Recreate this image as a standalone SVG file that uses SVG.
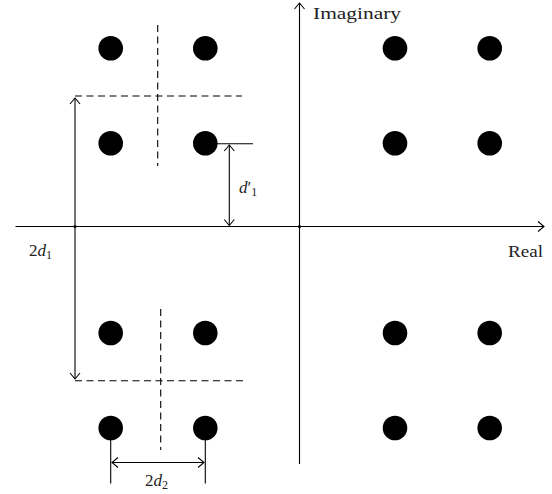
<svg xmlns="http://www.w3.org/2000/svg" width="552" height="494" viewBox="0 0 552 494">
<defs>
<style>
.ln{stroke:#000;stroke-width:1.1;fill:none}
.ds{stroke:#000;stroke-width:1.1;fill:none;stroke-dasharray:7 4.5}
.dot{fill:#000}
.t{font-family:"Liberation Serif","Times New Roman",serif;font-size:17px;fill:#222}
.i{font-style:italic}
</style>
<marker id="ah" markerWidth="12" markerHeight="12" refX="7" refY="6" orient="auto-start-reverse" markerUnits="userSpaceOnUse">
<path d="M1,1 L7,6 L1,11" fill="none" stroke="#000" stroke-width="1.1"/>
</marker>
</defs>
<rect width="552" height="494" fill="#fff"/>
<g id="axes">
<line id="real-axis" class="ln" x1="15.5" y1="226.5" x2="544" y2="226.5" marker-end="url(#ah)"/>
<line id="imag-axis" class="ln" x1="299.5" y1="464" x2="299.5" y2="3" marker-end="url(#ah)"/>
<circle cx="299.5" cy="226.5" r="1.6" class="dot"/>
<circle cx="75" cy="226.5" r="1.6" class="dot"/>
</g>
<g id="dots">
<circle class="dot" cx="110.7" cy="48.3" r="12.3"/>
<circle class="dot" cx="205.3" cy="48.3" r="12.3"/>
<circle class="dot" cx="110.7" cy="143.3" r="12.3"/>
<circle class="dot" cx="205.3" cy="143.3" r="12.3"/>
<circle class="dot" cx="110.7" cy="333" r="12.3"/>
<circle class="dot" cx="205.3" cy="333" r="12.3"/>
<circle class="dot" cx="110.7" cy="428" r="12.3"/>
<circle class="dot" cx="205.3" cy="428" r="12.3"/>
<circle class="dot" cx="395" cy="48.3" r="12.3"/>
<circle class="dot" cx="489.7" cy="48.3" r="12.3"/>
<circle class="dot" cx="395" cy="143.3" r="12.3"/>
<circle class="dot" cx="489.7" cy="143.3" r="12.3"/>
<circle class="dot" cx="395" cy="333" r="12.3"/>
<circle class="dot" cx="489.7" cy="333" r="12.3"/>
<circle class="dot" cx="395" cy="428" r="12.3"/>
<circle class="dot" cx="489.7" cy="428" r="12.3"/>
</g>
<g id="connectors">
<line class="ds" x1="157.7" y1="25" x2="157.7" y2="166"/>
<line class="ds" x1="75" y1="96" x2="242" y2="96"/>
<line class="ds" x1="160.7" y1="309" x2="160.7" y2="450"/>
<line class="ds" x1="75" y1="380.7" x2="243" y2="380.7"/>
<line class="ln" x1="75" y1="98" x2="75" y2="379" marker-start="url(#ah)" marker-end="url(#ah)"/>
<line class="ln" x1="216" y1="143.8" x2="253" y2="143.8"/>
<line class="ln" x1="229.3" y1="145" x2="229.3" y2="225.5" marker-start="url(#ah)" marker-end="url(#ah)"/>
<line class="ln" x1="110.7" y1="440" x2="110.7" y2="483.5"/>
<line class="ln" x1="205.3" y1="440" x2="205.3" y2="483.5"/>
<line class="ln" x1="112" y1="462.5" x2="204" y2="462.5" marker-start="url(#ah)" marker-end="url(#ah)"/>
</g>
<g id="labels">
<text class="t" x="313" y="19" textLength="88" lengthAdjust="spacingAndGlyphs">Imaginary</text>
<text class="t" x="508" y="257" textLength="35" lengthAdjust="spacingAndGlyphs">Real</text>
<text class="t" x="29" y="256">2<tspan class="i">d</tspan><tspan font-size="12" dy="3">1</tspan></text>
<text class="t" x="239" y="193"><tspan class="i">d</tspan>′<tspan font-size="12" dy="3">1</tspan></text>
<text class="t" x="145" y="486">2<tspan class="i">d</tspan><tspan font-size="12" dy="3">2</tspan></text>
</g>
</svg>
